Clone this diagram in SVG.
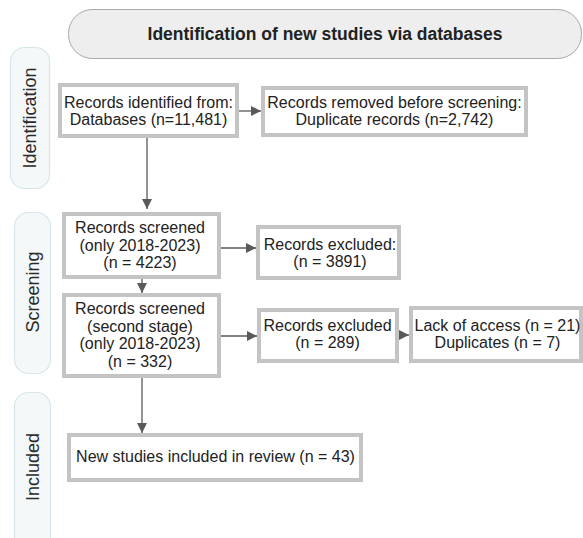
<svg xmlns="http://www.w3.org/2000/svg" width="583" height="538" viewBox="0 0 583 538">
<style>
text{font-family:"Liberation Sans",Arial,sans-serif;fill:#222;}
.box{fill:#fff;stroke:#c4c4c4;stroke-width:4;}
.t{font-size:16px;text-anchor:middle;}
.side{fill:#f4f8f9;stroke:#d5e7eb;stroke-width:1.2;}
.sl{font-size:18px;text-anchor:middle;fill:#2a2a2a;}
.c{stroke:#595959;stroke-width:1.3;fill:none;marker-end:url(#ah);}
</style>
<defs>
<marker id="ah" viewBox="0 0 10 10" refX="10" refY="5" markerWidth="10" markerHeight="10" markerUnits="userSpaceOnUse" orient="auto">
<path d="M0,0L10,5L0,10z" fill="#595959"/>
</marker>
</defs>
<rect width="583" height="538" fill="#fff"/>
<g id="header">
<rect x="68.5" y="9.5" width="513" height="49" rx="24" fill="#eeeeee" stroke="#a8a8a8" stroke-width="1"/>
<text x="325" y="40" style="font-size:17.5px;font-weight:bold;text-anchor:middle">Identification of new studies via databases</text>
</g>
<g id="phase-identification">
<rect class="side" x="10.5" y="47.5" width="39" height="141" rx="14"/>
<text class="sl" transform="translate(36,118) rotate(-90)">Identification</text>
</g>
<g id="phase-screening">
<rect class="side" x="14.5" y="212.5" width="36" height="161" rx="14"/>
<text class="sl" transform="translate(39,292) rotate(-90)">Screening</text>
</g>
<g id="phase-included">
<rect class="side" x="14.5" y="392.5" width="36" height="160" rx="14"/>
<text class="sl" transform="translate(39,467) rotate(-90)">Included</text>
</g>
<g id="connectors">
<line class="c" x1="239" y1="111" x2="261" y2="111"/>
<line class="c" x1="147" y1="138" x2="147" y2="209"/>
<line class="c" x1="221" y1="248" x2="256" y2="248"/>
<line class="c" x1="142" y1="279" x2="142" y2="293"/>
<line class="c" x1="221" y1="336" x2="257" y2="336"/>
<line class="c" x1="399" y1="335" x2="409" y2="335"/>
<line class="c" x1="142" y1="378" x2="142" y2="433"/>
</g>
<g id="n1">
<rect class="box" x="60" y="85" width="177" height="51"/>
<text class="t" x="148.5" y="108">Records identified from:</text>
<text class="t" x="148.5" y="125">Databases (n=11,481)</text>
</g>
<g id="n2">
<rect class="box" x="263" y="88" width="263" height="47"/>
<text class="t" x="394.5" y="108">Records removed before screening:</text>
<text class="t" x="394.5" y="125">Duplicate records (n=2,742)</text>
</g>
<g id="n3">
<rect class="box" x="64" y="214" width="155" height="63"/>
<text class="t" x="140" y="233">Records screened</text>
<text class="t" x="140" y="250.5">(only 2018-2023)</text>
<text class="t" x="140" y="268">(n = 4223)</text>
</g>
<g id="n4">
<rect class="box" x="258" y="227" width="141" height="51"/>
<text class="t" x="330" y="250">Records excluded:</text>
<text class="t" x="330" y="267">(n = 3891)</text>
</g>
<g id="n5">
<rect class="box" x="64" y="295" width="155" height="81"/>
<text class="t" x="140" y="314">Records screened</text>
<text class="t" x="140" y="332">(second stage)</text>
<text class="t" x="140" y="349">(only 2018-2023)</text>
<text class="t" x="140" y="367">(n = 332)</text>
</g>
<g id="n6">
<rect class="box" x="259" y="310" width="138" height="51"/>
<text class="t" x="327.5" y="331">Records excluded</text>
<text class="t" x="327.5" y="348">(n = 289)</text>
</g>
<g id="n7">
<rect class="box" x="411" y="308" width="170" height="53"/>
<text class="t" x="497.5" y="331">Lack of access (n = 21)</text>
<text class="t" x="497.5" y="348">Duplicates (n = 7)</text>
</g>
<g id="n8">
<rect class="box" x="69" y="435" width="292" height="45"/>
<text class="t" x="215.5" y="462">New studies included in review (n = 43)</text>
</g>
</svg>
